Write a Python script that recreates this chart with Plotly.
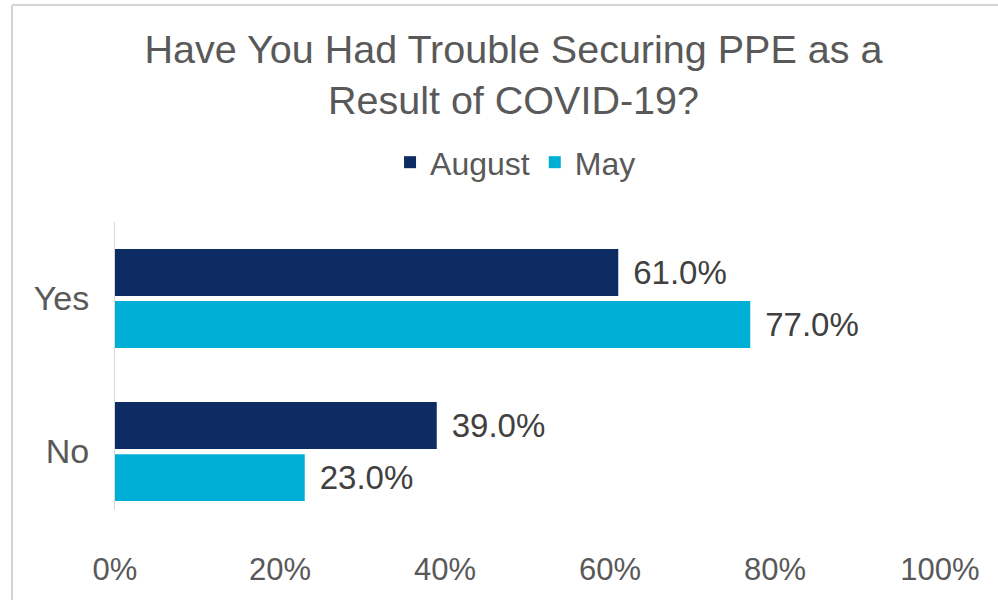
import plotly.graph_objects as go

categories = ["Yes", "No"]
series_names = ["August", "May"]
august_values = [61.0, 39.0]
may_values = [77.0, 23.0]
x_tick_values = [0, 20, 40, 60, 80, 100]
x_tick_labels = ["0%", "20%", "40%", "60%", "80%", "100%"]
colors = {"August": "#0c2c63", "May": "#00afd6"}

FONT = "Liberation Sans, Arial, sans-serif"
TEXT = "#404040"

fig = go.Figure()
for name, vals in zip(series_names, [august_values, may_values]):
    fig.add_trace(go.Bar(
        y=categories, x=vals, name=name, orientation="h",
        marker=dict(color=colors[name], line=dict(width=0)),
        texttemplate="\u00a0\u200a%{x:.1f}%",
        textposition="outside",
        constraintext="none",
        cliponaxis=False,
        textfont=dict(family=FONT, size=33, color=TEXT),
    ))

fig.update_layout(
    width=998, height=600,
    paper_bgcolor="white", plot_bgcolor="white",
    margin=dict(l=115, r=58, t=222, b=90),
    barmode="group", bargap=0.32, bargroupgap=0.1,
    font=dict(family=FONT, color=TEXT),
    title=dict(
        text="Have You Had Trouble Securing PPE as a<br>Result of COVID-19?",
        x=0.5145, xanchor="center", y=0.895, yanchor="top", yref="container",
        font=dict(family=FONT, size=39.5, color="#595959"),
    ),
    legend=dict(
        orientation="h", x=0.4855, xanchor="center", y=1.207, yanchor="middle",
        font=dict(family=FONT, size=32, color="#595959"),
        traceorder="normal",
    ),
    xaxis=dict(
        range=[0, 100], tickvals=x_tick_values, ticktext=x_tick_labels,
        showgrid=False, zeroline=False, showline=False,
        tickfont=dict(family=FONT, size=31, color="#595959"),
        ticklabelstandoff=38,
    ),
    yaxis=dict(
        categoryorder="array", categoryarray=categories,
        range=[1.382, -0.5],
        showline=True, linecolor="#d9d9d9", linewidth=1,
        showgrid=False, ticks="", ticklabelstandoff=18,
        tickfont=dict(family=FONT, size=34, color="#595959"),
    ),
    shapes=[
        dict(type="line", xref="paper", yref="paper",
             x0=-103/825, x1=883/825, y0=505/288, y1=505/288,
             line=dict(color="#d4d4d4", width=2)),
        dict(type="line", xref="paper", yref="paper",
             x0=-103/825, x1=-103/825, y0=505/288, y1=-90/288,
             line=dict(color="#d4d4d4", width=2)),
    ],
)

fig.write_html("out.html", config={"displayModeBar": False},
               post_script="document.body.style.margin='0';")
